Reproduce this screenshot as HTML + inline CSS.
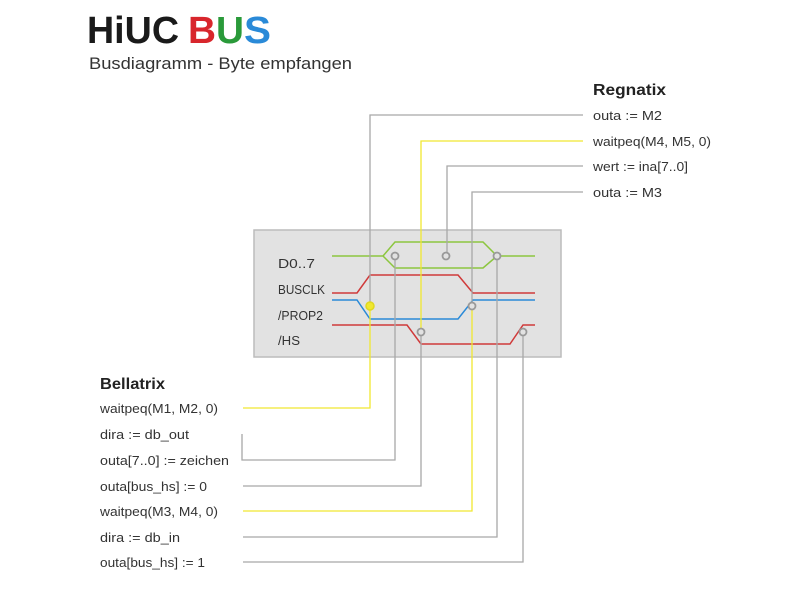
<!DOCTYPE html>
<html><head><meta charset="utf-8"><style>
body{margin:0;background:#fff;}
svg{display:block;font-family:"Liberation Sans",sans-serif;}
</style></head><body>
<svg width="800" height="600" viewBox="0 0 800 600" xmlns="http://www.w3.org/2000/svg">
<rect width="800" height="600" fill="#fff"/>
<!-- logo -->
<text x="87" y="43" font-size="38" font-weight="bold" fill="#1a1a1a" textLength="92" lengthAdjust="spacingAndGlyphs">HiUC</text>
<text x="188" y="43" font-size="38" font-weight="bold" fill="#d8262c" textLength="28" lengthAdjust="spacingAndGlyphs">B</text>
<text x="216" y="43" font-size="38" font-weight="bold" fill="#2a9a3a" textLength="28" lengthAdjust="spacingAndGlyphs">U</text>
<text x="244" y="43" font-size="38" font-weight="bold" fill="#2a8ad8" textLength="27" lengthAdjust="spacingAndGlyphs">S</text>
<text x="89" y="69" font-size="17" fill="#333" textLength="263" lengthAdjust="spacingAndGlyphs">Busdiagramm - Byte empfangen</text>

<!-- box -->
<rect x="254" y="230" width="307" height="127" fill="#e2e2e2" stroke="#bcbcbc" stroke-width="1.5"/>
<g font-size="12.5" fill="#333">
<text x="278" y="268" textLength="37" lengthAdjust="spacingAndGlyphs">D0..7</text>
<text x="278" y="294" textLength="47" lengthAdjust="spacingAndGlyphs">BUSCLK</text>
<text x="278" y="320" textLength="45" lengthAdjust="spacingAndGlyphs">/PROP2</text>
<text x="278" y="345" textLength="22" lengthAdjust="spacingAndGlyphs">/HS</text>
</g>
<g fill="none" stroke-width="1.5">
<path d="M332 256 H383 L395 242 H483 L497 256 H535 M383 256 L395 268 H483 L497 256" stroke="#8cc63f"/>
<path d="M332 293 H357 L370 275 H458 L473 293 H535" stroke="#d03a3a"/>
<path d="M332 300 H357 L370 319 H458 L473 300 H535" stroke="#2a8ad8"/>
<path d="M332 325 H407 L421 344 H510 L523 325 H535" stroke="#d03a3a"/>
</g>

<!-- connectors -->
<g fill="none" stroke-width="1.3">
<path d="M583 115 H370 V302" stroke="#a8a8a8"/>
<path d="M583 141 H421 V328" stroke="#f0e830"/>
<path d="M583 166 H447 V252" stroke="#a8a8a8"/>
<path d="M583 192 H472 V302" stroke="#a8a8a8"/>
<path d="M370 310 V408 H243" stroke="#f0e830"/>
<path d="M395 260 V460 H242 V434" stroke="#a8a8a8"/>
<path d="M421 336 V486 H243" stroke="#a8a8a8"/>
<path d="M472 310 V511 H243" stroke="#f0e830"/>
<path d="M497 260 V537 H243" stroke="#a8a8a8"/>
<path d="M523 336 V562 H243" stroke="#a8a8a8"/>
</g>
<g fill="#e2e2e2" stroke="#999" stroke-width="1.8">
<circle cx="395" cy="256" r="3.5"/>
<circle cx="446" cy="256" r="3.5"/>
<circle cx="497" cy="256" r="3.5"/>
<circle cx="472" cy="306" r="3.5"/>
<circle cx="421" cy="332" r="3.5"/>
<circle cx="523" cy="332" r="3.5"/>
</g>
<circle cx="370" cy="306" r="4" fill="#f0e830" stroke="#e0d820" stroke-width="1.5"/>

<!-- Regnatix -->
<text x="593" y="95" font-size="16" font-weight="bold" fill="#222" textLength="73" lengthAdjust="spacingAndGlyphs">Regnatix</text>
<g font-size="13" fill="#333">
<text x="593" y="120" textLength="69" lengthAdjust="spacingAndGlyphs">outa := M2</text>
<text x="593" y="146" textLength="118" lengthAdjust="spacingAndGlyphs">waitpeq(M4, M5, 0)</text>
<text x="593" y="171" textLength="95" lengthAdjust="spacingAndGlyphs">wert := ina[7..0]</text>
<text x="593" y="197" textLength="69" lengthAdjust="spacingAndGlyphs">outa := M3</text>
</g>

<!-- Bellatrix -->
<text x="100" y="389" font-size="16" font-weight="bold" fill="#222" textLength="65" lengthAdjust="spacingAndGlyphs">Bellatrix</text>
<g font-size="13" fill="#333">
<text x="100" y="413" textLength="118" lengthAdjust="spacingAndGlyphs">waitpeq(M1, M2, 0)</text>
<text x="100" y="439" textLength="89" lengthAdjust="spacingAndGlyphs">dira := db_out</text>
<text x="100" y="465" textLength="129" lengthAdjust="spacingAndGlyphs">outa[7..0] := zeichen</text>
<text x="100" y="491" textLength="107" lengthAdjust="spacingAndGlyphs">outa[bus_hs] := 0</text>
<text x="100" y="516" textLength="118" lengthAdjust="spacingAndGlyphs">waitpeq(M3, M4, 0)</text>
<text x="100" y="542" textLength="80" lengthAdjust="spacingAndGlyphs">dira := db_in</text>
<text x="100" y="567" textLength="105" lengthAdjust="spacingAndGlyphs">outa[bus_hs] := 1</text>
</g>
</svg>
</body></html>
